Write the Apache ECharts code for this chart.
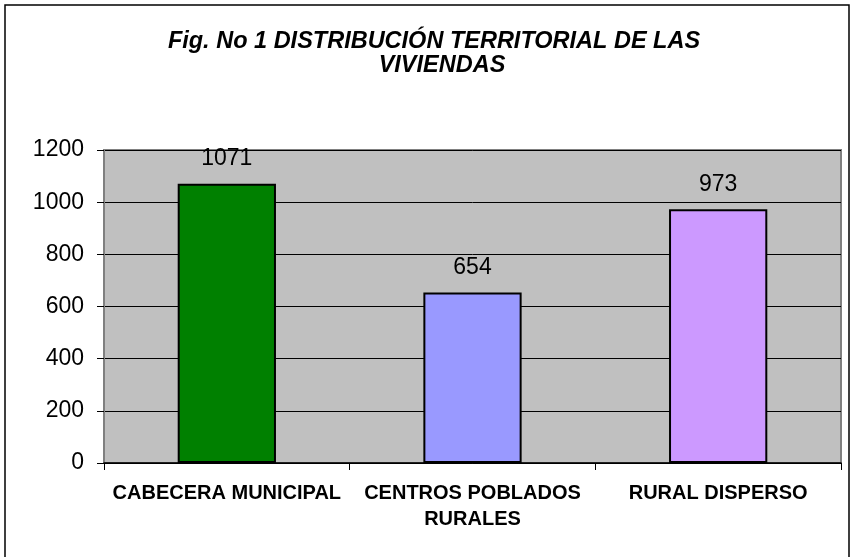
<!DOCTYPE html>
<html>
<head>
<meta charset="utf-8">
<script src="https://cdn.jsdelivr.net/npm/echarts@6/dist/echarts.min.js"></script>
<style>
html,body{margin:0;padding:0;background:#fff;}
#chart{width:851px;height:557px;}
</style>
</head>
<body>
<div id="chart"></div>
<script>
var titleLines = ['Fig. No 1 DISTRIBUCIÓN TERRITORIAL DE LAS', 'VIVIENDAS'];
var categories = ['CABECERA MUNICIPAL', 'CENTROS POBLADOS\nRURALES', 'RURAL DISPERSO'];
var values = [1071, 654, 973];
var barColors = ['#008000', '#9999FF', '#CC99FF'];
var yTicks = [0, 200, 400, 600, 800, 1000, 1200];

var chart = echarts.init(document.getElementById('chart'), null, {renderer: 'canvas'});
var font = '"Liberation Sans", Arial, sans-serif';
var option = {
  backgroundColor: '#ffffff',
  animation: false,
  graphic: [
    {type: 'rect', shape: {x: 5, y: 5, width: 844, height: 600}, style: {fill: 'none', stroke: '#000', lineWidth: 1.5}, silent: true},
    {type: 'text', x: 434, y: 42, style: {text: titleLines[0], font: 'italic bold 23.5px ' + font, fill: '#000', align: 'center', verticalAlign: 'middle'}},
    {type: 'text', x: 442, y: 66, style: {text: titleLines[1], font: 'italic bold 23.5px ' + font, fill: '#000', align: 'center', verticalAlign: 'middle'}}
  ],
  grid: {left: 104, right: 10, top: 150, bottom: 94, show: true, backgroundColor: '#C0C0C0', borderColor: '#808080', borderWidth: 2},
  xAxis: {
    type: 'category',
    data: categories,
    axisLine: {lineStyle: {color: '#000', width: 1.5}},
    axisTick: {show: true, alignWithLabel: false, length: 7, lineStyle: {color: '#000'}},
    axisLabel: {interval: 0, margin: 17, fontFamily: font, fontWeight: 'bold', fontSize: 20, lineHeight: 26, color: '#000'},
    splitLine: {show: false}
  },
  yAxis: {
    type: 'value',
    min: yTicks[0],
    max: yTicks[yTicks.length - 1],
    interval: yTicks[1] - yTicks[0],
    axisLine: {show: true, lineStyle: {color: '#808080', width: 2}},
    axisTick: {show: true, length: 7, lineStyle: {color: '#000'}},
    axisLabel: {margin: 20, fontFamily: font, fontSize: 23, color: '#000', formatter: function (v) { return String(v); }},
    splitLine: {show: true, lineStyle: {color: '#000', width: 1}}
  },
  series: [{
    type: 'bar',
    barWidth: '40%',
    data: values.map(function (v, i) {
      return {value: v, itemStyle: {color: barColors[i]}};
    }),
    itemStyle: {borderColor: '#000', borderWidth: 2},
    label: {show: true, position: 'top', distance: 13, fontFamily: font, fontSize: 23, color: '#000'}
  }]
};
chart.setOption(option);
</script>
</body>
</html>
